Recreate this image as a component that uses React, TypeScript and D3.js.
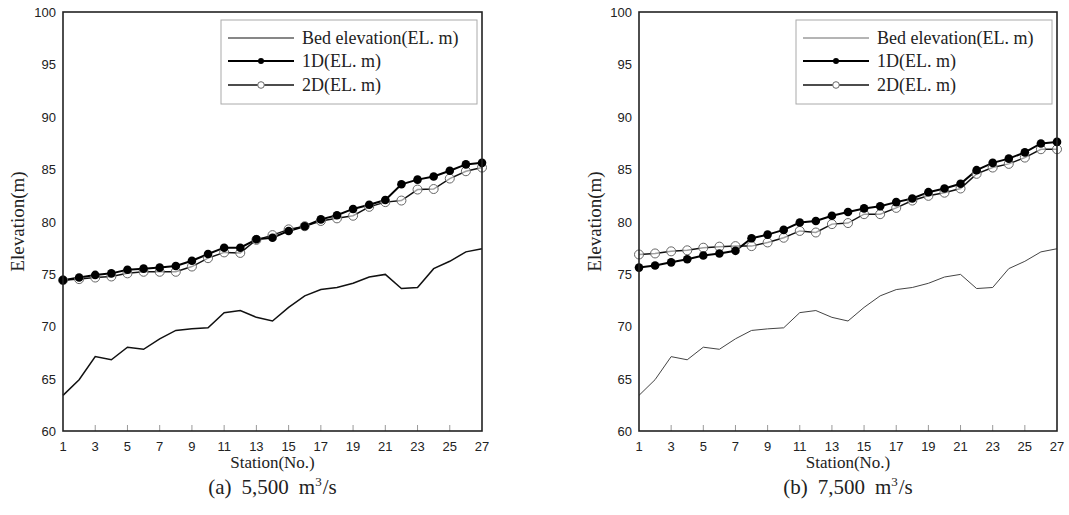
import React from "react";
import * as d3 from "d3";

const stations = d3.range(1, 28);
const xTicks = [1, 3, 5, 7, 9, 11, 13, 15, 17, 19, 21, 23, 25, 27];
const yTicks = [60, 65, 70, 75, 80, 85, 90, 95, 100];

const bed = [63.4, 64.9, 67.1, 66.8, 68.0, 67.8, 68.8, 69.6, 69.75, 69.85, 71.3, 71.5, 70.85, 70.5, 71.8, 72.9, 73.5, 73.7, 74.1, 74.7, 74.95, 73.6, 73.7, 75.5, 76.2, 77.1, 77.4];

const a1D = [74.4, 74.65, 74.9, 75.05, 75.4, 75.5, 75.6, 75.75, 76.25, 76.9, 77.5, 77.5, 78.3, 78.45, 79.1, 79.55, 80.2, 80.6, 81.2, 81.6, 82.05, 83.55, 84.0, 84.3, 84.85, 85.45, 85.6];
const a2D = [74.4, 74.5, 74.65, 74.75, 75.05, 75.2, 75.2, 75.2, 75.7, 76.5, 77.05, 77.0, 78.25, 78.7, 79.25, 79.55, 80.05, 80.3, 80.55, 81.4, 81.85, 82.0, 83.05, 83.1, 84.1, 84.8, 85.15];

const b1D = [75.6, 75.8, 76.1, 76.4, 76.75, 76.95, 77.2, 78.4, 78.75, 79.2, 79.9, 80.05, 80.55, 80.9, 81.25, 81.45, 81.85, 82.2, 82.8, 83.15, 83.6, 84.9, 85.6, 86.0, 86.6, 87.45, 87.6];
const b2D = [76.85, 76.95, 77.15, 77.25, 77.5, 77.6, 77.65, 77.65, 78.0, 78.45, 79.1, 78.95, 79.75, 79.85, 80.7, 80.7, 81.3, 82.0, 82.45, 82.75, 83.15, 84.55, 85.15, 85.5, 86.1, 86.9, 86.9];

const legendLabels = ["Bed elevation(EL. m)", "1D(EL. m)", "2D(EL. m)"];

const SANS = "'Liberation Sans', Arial, sans-serif";
const SERIF = "'Liberation Serif', 'Times New Roman', serif";

function Panel({ left, right, top, bottom, s1, s2, bedWidth, bedColor, yLabelX, tag, flow }: any) {
  const x = d3.scaleLinear().domain([1, 27]).range([left, right]);
  const y = d3.scaleLinear().domain([60, 100]).range([bottom, top]);
  const line = d3.line<number>().x((_, i) => x(stations[i])).y((d) => y(d));
  const lx = right - 261;
  const ly = top + 8;
  const rows = [ly + 18, ly + 41, ly + 65];
  const cx = (left + right) / 2;
  return (
    <g>
      {xTicks.slice(1, -1).map((t) => (
        <line key={t} x1={x(t)} x2={x(t)} y1={bottom} y2={bottom - 6} stroke="#999" strokeWidth={1} />
      ))}
      <path d={line(bed) || ""} fill="none" stroke={bedColor} strokeWidth={bedWidth} />
      <path d={line(s2) || ""} fill="none" stroke="#111" strokeWidth={1.5} />
      <path d={line(s1) || ""} fill="none" stroke="#000" strokeWidth={2} />
      {s2.map((d: number, i: number) => (
        <circle key={"o" + i} cx={x(stations[i])} cy={y(d)} r={4.5} fill="#fff" fillOpacity={0.6} stroke="#666" strokeWidth={1} />
      ))}
      {s1.map((d: number, i: number) => (
        <circle key={"f" + i} cx={x(stations[i])} cy={y(d)} r={4.3} fill="#000" />
      ))}
      <rect x={left} y={top} width={right - left} height={bottom - top} fill="none" stroke="#222" strokeWidth={1.6} />
      {yTicks.map((t) => (
        <text key={t} x={left - 7} y={y(t) + 5} textAnchor="end" fontFamily={SANS} fontSize={13} fill="#222">{t}</text>
      ))}
      {xTicks.map((t) => (
        <text key={t} x={x(t)} y={bottom + 20} textAnchor="middle" fontFamily={SANS} fontSize={13} fill="#222">{t}</text>
      ))}
      <text transform={`translate(${yLabelX},${(top + bottom) / 2}) rotate(-90)`} textAnchor="middle" fontFamily={SERIF} fontSize={19} fill="#222">Elevation(m)</text>
      <text x={cx} y={bottom + 37} textAnchor="middle" fontFamily={SERIF} fontSize={17} fill="#222">Station(No.)</text>
      <text x={cx} y={bottom + 63} textAnchor="middle" fontFamily={SERIF} fontSize={21} fill="#222">
        {tag}<tspan dx={10}>{flow}</tspan><tspan dx={10}>m</tspan><tspan dy={-8} fontSize={13}>3</tspan><tspan dy={8} dx={1}>/s</tspan>
      </text>
      <rect x={lx} y={ly} width={256} height={84} fill="#fff" stroke="#aaa" strokeWidth={1} />
      <line x1={lx + 7} x2={lx + 73} y1={rows[0]} y2={rows[0]} stroke={bedColor} strokeWidth={bedWidth * 0.8} />
      <line x1={lx + 7} x2={lx + 73} y1={rows[1]} y2={rows[1]} stroke="#000" strokeWidth={2} />
      <circle cx={lx + 40} cy={rows[1]} r={3} fill="#000" />
      <line x1={lx + 7} x2={lx + 73} y1={rows[2]} y2={rows[2]} stroke="#111" strokeWidth={1.5} />
      <circle cx={lx + 40} cy={rows[2]} r={3.3} fill="#fff" stroke="#666" strokeWidth={1} />
      {legendLabels.map((l, i) => (
        <text key={l} x={lx + 81} y={rows[i] + 6} fontFamily={SERIF} fontSize={18} fill="#222">{l}</text>
      ))}
    </g>
  );
}

export default function App() {
  return (
    <svg width={1069} height={515} style={{ position: "absolute", left: 0, top: 0, background: "#fff" }}>
      <rect width={1069} height={515} fill="#fff" />
      <Panel left={63} right={482} top={12} bottom={431} s1={a1D} s2={a2D} bedWidth={1.5} bedColor="#111" yLabelX={24} tag="(a)" flow="5,500" />
      <Panel left={639} right={1057} top={12} bottom={431} s1={b1D} s2={b2D} bedWidth={1} bedColor="#444" yLabelX={601} tag="(b)" flow="7,500" />
    </svg>
  );
}
